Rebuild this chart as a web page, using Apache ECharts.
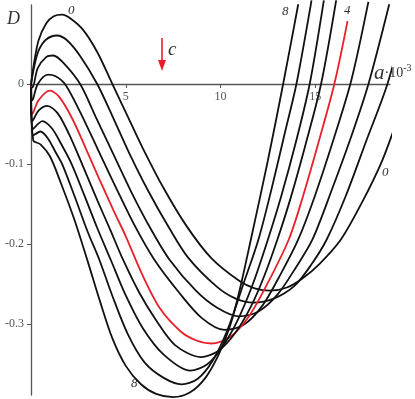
<!DOCTYPE html>
<html>
<head>
<meta charset="utf-8">
<script src="https://cdn.jsdelivr.net/npm/echarts@6/dist/echarts.min.js"></script>
<style>
  html, body { margin: 0; padding: 0; background: #fff; }
  #chart { width: 415px; height: 399px; }
</style>
</head>
<body>
<div id="chart"></div>
<script>
// D(a) curves, a in units of 10^-3
const curve0 = [[0,0],[0.15,0.025],[0.4,0.055],[0.8,0.076],[1.2,0.085],[1.64,0.087],[2.1,0.082],[2.75,0.068],[3.5,0.04],[4.3,0],[5.1,-0.04],[5.9,-0.08],[7.0,-0.13],[8.2,-0.177],[9.5,-0.217],[11.0,-0.246],[11.8,-0.255],[12.6,-0.258],[13.5,-0.254],[14.3,-0.243],[15.2,-0.225],[16.35,-0.194],[17.5,-0.146],[18.5,-0.097],[19.3,-0.046]]
const curve1 = [[0,0],[0.15,0.02],[0.4,0.042],[0.8,0.056],[1.37,0.061],[1.9,0.055],[2.6,0.035],[3.5,0],[4.3,-0.04],[5.2,-0.087],[6.2,-0.134],[7.3,-0.18],[8.3,-0.217],[9.8,-0.253],[10.8,-0.268],[11.75,-0.273],[12.8,-0.268],[13.9,-0.252],[14.8,-0.225],[15.6,-0.194],[16.6,-0.14],[17.7,-0.07],[18.8,0],[19.85,0.092]]
const curve2 = [[0,0],[0.08,-0.004],[0.35,0.02],[0.8,0.034],[1.17,0.036],[1.7,0.027],[2.6,0],[3.4,-0.04],[4.3,-0.085],[5.3,-0.135],[6.3,-0.18],[7.3,-0.219],[8.7,-0.258],[9.8,-0.279],[10.95,-0.29],[12.0,-0.284],[13.0,-0.263],[14.0,-0.228],[14.85,-0.194],[15.9,-0.13],[16.9,-0.065],[17.8,0],[18.9,0.1]]
const curve3 = [[0,0],[0.08,-0.02],[0.35,0.0],[0.9,0.012],[1.3,0.01],[1.8,0],[2.6,-0.035],[3.5,-0.08],[4.5,-0.13],[5.5,-0.178],[6.5,-0.219],[7.8,-0.26],[9.0,-0.292],[10.2,-0.307],[11.2,-0.301],[12.2,-0.277],[13.2,-0.236],[14.1,-0.194],[15.0,-0.138],[16.0,-0.066],[16.9,0.005],[17.8,0.103]]
const curve4 = [[0,-0.002],[0.08,-0.037],[0.4,-0.02],[1.0,-0.008],[1.5,-0.016],[2.2,-0.044],[3.0,-0.086],[3.65,-0.121],[4.4,-0.16],[5.0,-0.19],[5.87,-0.238],[6.8,-0.28],[7.9,-0.309],[8.7,-0.32],[9.5,-0.324],[10.5,-0.316],[11.5,-0.29],[12.5,-0.248],[13.6,-0.194],[14.3,-0.144],[15.2,-0.07],[16.0,0],[16.7,0.079]]
const curve5 = [[0,-0.003],[0.08,-0.046],[0.4,-0.033],[0.85,-0.027],[1.4,-0.036],[2.0,-0.062],[2.7,-0.1],[3.5,-0.145],[4.2,-0.183],[4.85,-0.219],[5.7,-0.26],[6.6,-0.295],[7.6,-0.326],[8.95,-0.341],[9.9,-0.333],[10.8,-0.31],[11.6,-0.278],[12.3,-0.24],[13.0,-0.194],[13.7,-0.142],[14.5,-0.074],[15.3,0],[16.1,0.105]]
const curve6 = [[0,-0.004],[0.1,-0.056],[0.6,-0.046],[1.1,-0.055],[1.6,-0.075],[2.15,-0.1],[2.8,-0.138],[3.5,-0.18],[4.2,-0.219],[5.0,-0.264],[5.9,-0.305],[7.0,-0.338],[8.4,-0.358],[9.3,-0.35],[10.1,-0.328],[10.9,-0.295],[11.7,-0.25],[12.5,-0.194],[13.2,-0.14],[14.0,-0.07],[14.7,0],[15.45,0.105]]
const curve7 = [[0,-0.005],[0.12,-0.064],[0.5,-0.059],[0.9,-0.068],[1.3,-0.085],[1.65,-0.1],[2.3,-0.14],[3.0,-0.185],[3.6,-0.219],[4.3,-0.265],[5.1,-0.312],[6.0,-0.348],[7.0,-0.367],[7.95,-0.375],[8.8,-0.368],[9.6,-0.345],[10.4,-0.305],[11.2,-0.25],[12.0,-0.194],[12.7,-0.13],[13.4,-0.06],[14.0,0],[14.8,0.105]]
const curve8 = [[0,-0.005],[0.12,-0.07],[0.5,-0.075],[1.0,-0.09],[1.6,-0.125],[2.3,-0.17],[3.0,-0.222],[3.65,-0.272],[4.3,-0.318],[5.0,-0.352],[5.8,-0.375],[6.6,-0.387],[7.5,-0.391],[8.4,-0.385],[9.2,-0.367],[9.9,-0.338],[10.5,-0.302],[11.0,-0.258],[11.6,-0.194],[12.5,-0.095],[13.3,0],[14.1,0.1]]

const curves = [curve0, curve1, curve2, curve3, curve4, curve5, curve6, curve7, curve8]
const xTicks = [5, 10, 15]
const yTicks = [0, -0.1, -0.2, -0.3]

const serif = '"Liberation Serif", "DejaVu Serif", serif'
const chart = echarts.init(document.getElementById('chart'))

const series = curves.map((c, i) => ({
  type: 'line',
  data: c,
  smooth: 0.3,
  showSymbol: false,
  clip: false,
  silent: true,
  lineStyle: {
    width: 1.8,
    color: i === 4 ? '#e8202a' : '#111'
  }
}))

const curveLabel = (text, x, y) => ({
  type: 'text',
  left: x,
  top: y,
  style: { text, font: 'italic 13px ' + serif, fill: '#333' }
})

const option = {
  animation: false,
  grid: { left: 31, right: 25, top: 5, bottom: 4, containLabel: false, outerBoundsMode: 'none' },
  xAxis: {
    type: 'value',
    min: 0,
    max: 18.94,
    position: 'bottom',
    // axis sits on D = 0, i.e. 311px above the grid bottom
    offset: -311,
    axisLine: { onZero: false, lineStyle: { color: '#555', width: 1.3 } },
    axisTick: { customValues: xTicks, length: 4, lineStyle: { color: '#555' } },
    axisLabel: {
      customValues: xTicks,
      margin: 7,
      fontFamily: serif,
      fontSize: 12,
      color: '#555'
    },
    splitLine: { show: false }
  },
  yAxis: {
    type: 'value',
    min: -0.3884,
    max: 0.0991,
    axisLine: { show: true, onZero: false, lineStyle: { color: '#555', width: 1.3 } },
    axisTick: { show: true, customValues: yTicks, length: 4, lineStyle: { color: '#555' } },
    axisLabel: {
      customValues: yTicks,
      margin: 7,
      fontFamily: serif,
      fontSize: 12,
      color: '#555'
    },
    splitLine: { show: false }
  },
  series,
  graphic: [
    { type: 'text', left: 7, top: 10, style: { text: 'D', font: 'italic 18px ' + serif, fill: '#333' } },
    {
      type: 'text', left: 374, top: 63,
      style: {
        text: '{a|a}{b|·10}{c|-3}',
        rich: {
          a: { font: 'italic 21px ' + serif, fill: '#333' },
          b: { font: '14px ' + serif, fill: '#333' },
          c: { font: '10px ' + serif, fill: '#333', verticalAlign: 'top', padding: [0, 0, 10, 0] }
        }
      }
    },
    curveLabel('0', 68, 4),
    curveLabel('8', 282, 5),
    curveLabel('4', 344, 4),
    curveLabel('0', 382, 166),
    curveLabel('8', 131, 377),
    { type: 'text', left: 168, top: 40, style: { text: 'c', font: 'italic 19px ' + serif, fill: '#333' } },
    { type: 'line', shape: { x1: 162, y1: 38, x2: 162, y2: 62 }, style: { stroke: '#e8202a', lineWidth: 1.6 } },
    { type: 'polygon', shape: { points: [[158, 60], [166, 60], [162, 71]] }, style: { fill: '#e8202a' } }
  ]
}

chart.setOption(option)
</script>
</body>
</html>
